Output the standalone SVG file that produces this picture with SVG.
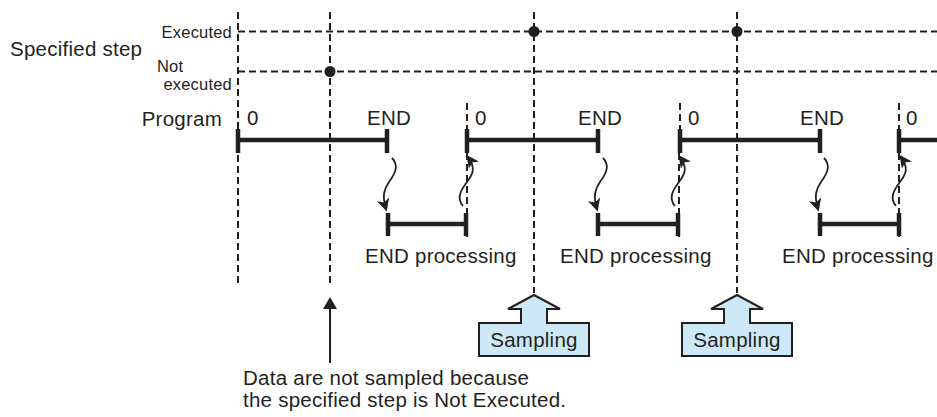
<svg xmlns="http://www.w3.org/2000/svg" width="937" height="417" viewBox="0 0 937 417">
<style>
text{font-family:"Liberation Sans",Arial,sans-serif;fill:#231f20}
.t{font-size:20.5px;letter-spacing:0.25px}
.s{font-size:16.5px;letter-spacing:0.2px}
.dash{stroke:#231f20;stroke-width:2;stroke-dasharray:7 4;fill:none}
.bar{stroke:#231f20;stroke-width:4.5;fill:none}
.tick{stroke:#231f20;stroke-width:4.5;fill:none}
.wave{stroke:#231f20;stroke-width:1.8;fill:none;marker-end:url(#ah)}
.samp{fill:#cde9f8;stroke:#231f20;stroke-width:2}
</style>
<defs>
<marker id="ah" viewBox="0 0 10 10" refX="8" refY="5" markerWidth="8" markerHeight="7" orient="auto" markerUnits="strokeWidth">
<path d="M0,0 L10,5 L0,10 L2.5,5 Z" fill="#231f20"/>
</marker>
</defs>
<rect width="937" height="417" fill="#fff"/>

<g id="labels">
<text class="t" x="10" y="56">Specified step</text>
<text class="s" x="232" y="38" text-anchor="end">Executed</text>
<text class="s" x="157" y="72">Not</text>
<text class="s" x="232" y="90" text-anchor="end">executed</text>
<text class="t" x="222" y="126" text-anchor="end">Program</text>
</g>

<g id="gridlines">
<line class="dash" x1="238" y1="31.5" x2="937" y2="31.5"/>
<line class="dash" x1="238" y1="71.5" x2="937" y2="71.5"/>
<line class="dash" x1="238" y1="12" x2="238" y2="285"/>
<line class="dash" x1="330" y1="12" x2="330" y2="285"/>
<line class="dash" x1="534" y1="12" x2="534" y2="293"/>
<line class="dash" x1="737" y1="12" x2="737" y2="293"/>
<line class="dash" x1="467" y1="103" x2="467" y2="130"/>
<line class="dash" x1="467" y1="153" x2="467" y2="241"/>
<line class="dash" x1="680" y1="103" x2="680" y2="130"/>
<line class="dash" x1="679" y1="153" x2="679" y2="241"/>
<line class="dash" x1="899" y1="103" x2="899" y2="130"/>
<line class="dash" x1="899" y1="153" x2="899" y2="241"/>
<circle cx="330" cy="71.5" r="5.5" fill="#231f20"/>
<circle cx="534" cy="31.5" r="5.5" fill="#231f20"/>
<circle cx="737" cy="31.5" r="5.5" fill="#231f20"/>
</g>

<g id="scan1">
<line class="bar" x1="238" y1="140" x2="387" y2="140"/>
<line class="tick" x1="238" y1="129" x2="238" y2="153"/>
<line class="tick" x1="387" y1="129" x2="387" y2="153"/>
<text class="t" x="247" y="125">0</text>
<text class="t" x="389" y="125" text-anchor="middle">END</text>
</g>
<g id="endproc1">
<line class="bar" x1="388" y1="224" x2="466" y2="224"/>
<line class="tick" x1="388" y1="213" x2="388" y2="236"/>
<line class="tick" x1="466" y1="213" x2="466" y2="236"/>
<text class="t" x="365" y="263">END processing</text>
</g>
<g id="scan2">
<line class="bar" x1="467" y1="140" x2="598" y2="140"/>
<line class="tick" x1="467" y1="129" x2="467" y2="153"/>
<line class="tick" x1="598" y1="129" x2="598" y2="153"/>
<text class="t" x="475" y="125">0</text>
<text class="t" x="600" y="125" text-anchor="middle">END</text>
</g>
<g id="endproc2">
<line class="bar" x1="598" y1="224" x2="678" y2="224"/>
<line class="tick" x1="598" y1="213" x2="598" y2="236"/>
<line class="tick" x1="678" y1="213" x2="678" y2="236"/>
<text class="t" x="560" y="263">END processing</text>
</g>
<g id="scan3">
<line class="bar" x1="680" y1="140" x2="820" y2="140"/>
<line class="tick" x1="680" y1="129" x2="680" y2="153"/>
<line class="tick" x1="820" y1="129" x2="820" y2="153"/>
<text class="t" x="688" y="125">0</text>
<text class="t" x="822" y="125" text-anchor="middle">END</text>
</g>
<g id="endproc3">
<line class="bar" x1="820" y1="224" x2="899" y2="224"/>
<line class="tick" x1="820" y1="213" x2="820" y2="236"/>
<line class="tick" x1="899" y1="213" x2="899" y2="236"/>
<text class="t" x="782" y="263">END processing</text>
</g>
<g id="scan4">
<line class="bar" x1="899" y1="140" x2="937" y2="140"/>
<line class="tick" x1="899" y1="129" x2="899" y2="153"/>
<text class="t" x="906" y="125">0</text>
</g>

<g id="sampling1">
<path class="samp" d="M534,295 L560,309 L547,309 L547,323 L589,323 L589,356 L479,356 L479,323 L521,323 L521,309 L508,309 Z"/>
<text class="t" x="534" y="347" text-anchor="middle">Sampling</text>
</g>
<g id="sampling2">
<path class="samp" d="M737,295 L763,309 L750,309 L750,323 L792,323 L792,356 L682,356 L682,323 L724,323 L724,309 L711,309 Z"/>
<text class="t" x="737" y="347" text-anchor="middle">Sampling</text>
</g>

<g id="note">
<text class="t" x="243" y="385">Data are not sampled because</text>
<text class="t" x="243" y="407">the specified step is Not Executed.</text>
</g>

<g id="connectors">
<path class="wave" d="M392,158 C400,166 394,175 389,182 C384,189 382,196 386,209"/>
<path class="wave" d="M463,206 C456,198 461,190 467,182 C473,174 476,168 468,157"/>
<path class="wave" d="M603,158 C611,166 605,175 600,182 C595,189 593,196 597,209"/>
<path class="wave" d="M675,206 C668,198 673,190 679,182 C685,174 688,168 680,157"/>
<path class="wave" d="M824,158 C832,166 826,175 821,182 C816,189 814,196 818,209"/>
<path class="wave" d="M896,206 C889,198 894,190 900,182 C906,174 909,168 901,157"/>
<line x1="330" y1="363" x2="330" y2="305" stroke="#231f20" stroke-width="2"/>
<path d="M330,297 L337,309 L323,309 Z" fill="#231f20"/>
</g>
</svg>
